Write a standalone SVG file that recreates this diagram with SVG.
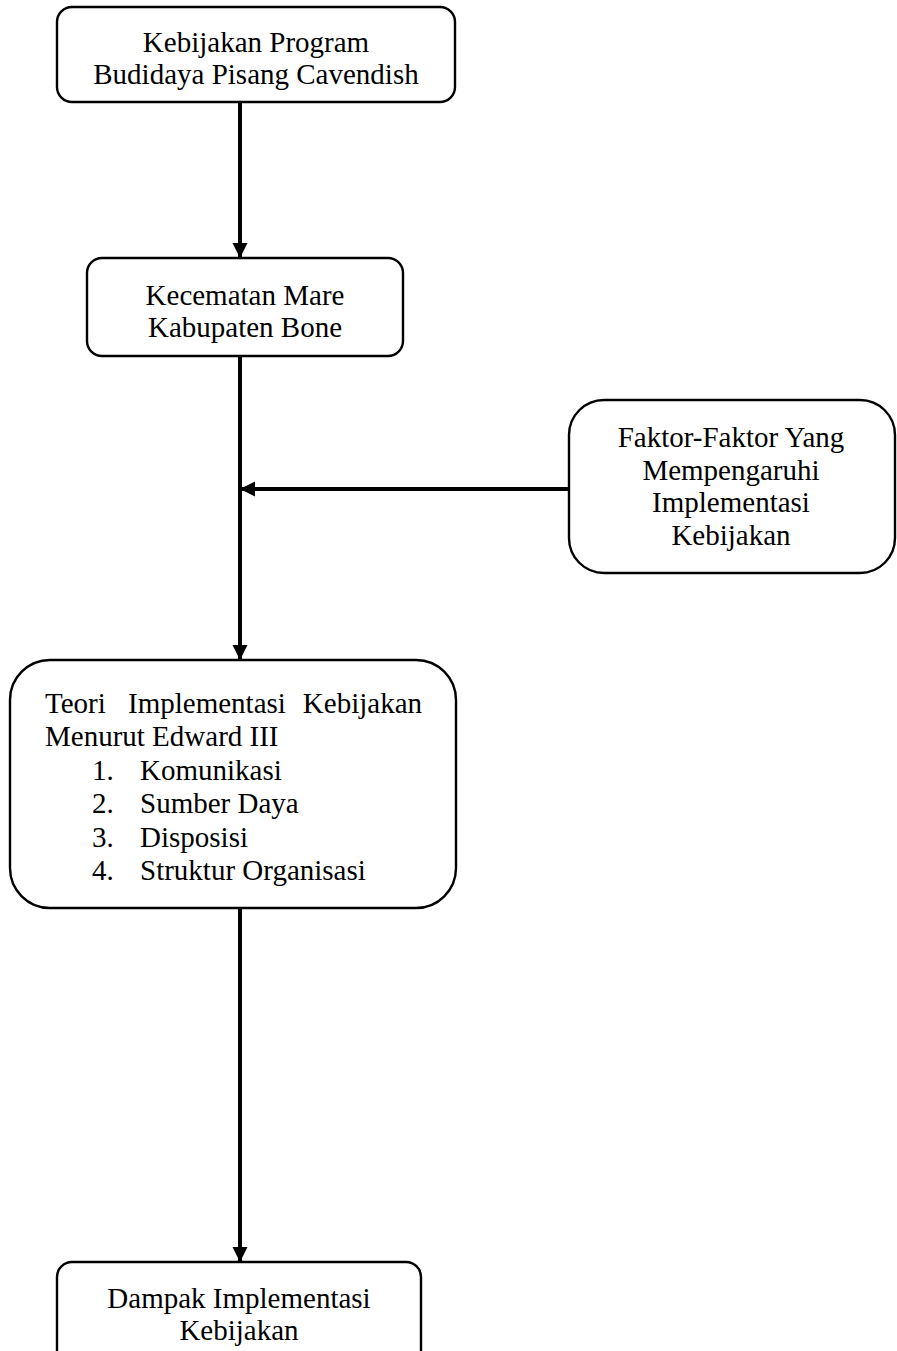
<svg xmlns="http://www.w3.org/2000/svg" width="897" height="1351" viewBox="0 0 897 1351">
<style>
.box{fill:#fff;stroke:#000;stroke-width:2.4}
.t{font-family:"Liberation Serif","Times New Roman",serif;font-size:29px;fill:#000}
.c{text-anchor:middle}
.ln{stroke:#000;stroke-width:4;fill:none}
</style>
<defs>
<marker id="ah" viewBox="0 0 10 10" refX="10" refY="5" markerWidth="3.8" markerHeight="3.8" orient="auto" markerUnits="strokeWidth">
<path d="M0,0 L10,5 L0,10 Z" fill="#000"/>
</marker>
</defs>
<g id="connectors">
<line class="ln" x1="240" y1="102" x2="240" y2="258" marker-end="url(#ah)"/>
<line class="ln" x1="240" y1="356" x2="240" y2="660" marker-end="url(#ah)"/>
<line class="ln" x1="569" y1="489" x2="240" y2="489" marker-end="url(#ah)"/>
<line class="ln" x1="240" y1="908" x2="240" y2="1262" marker-end="url(#ah)"/>
</g>
<g id="n1">
<rect class="box" x="57" y="7" width="398" height="95" rx="15"/>
<text class="t c" x="256" y="52">Kebijakan Program</text>
<text class="t c" x="256" y="84">Budidaya Pisang Cavendish</text>
</g>
<g id="n2">
<rect class="box" x="87" y="258" width="316" height="98" rx="15"/>
<text class="t c" x="245" y="305">Kecematan Mare</text>
<text class="t c" x="245" y="337">Kabupaten Bone</text>
</g>
<g id="n3">
<rect class="box" x="569" y="400" width="326" height="173" rx="35"/>
<text class="t c" x="731" y="447">Faktor-Faktor Yang</text>
<text class="t c" x="731" y="479.5">Mempengaruhi</text>
<text class="t c" x="731" y="512">Implementasi</text>
<text class="t c" x="731" y="544.5">Kebijakan</text>
</g>
<g id="n4">
<rect class="box" x="10" y="660" width="446" height="248" rx="40"/>
<text class="t" x="45" y="713">Teori</text>
<text class="t" x="128" y="713">Implementasi</text>
<text class="t" x="422" y="713" text-anchor="end">Kebijakan</text>
<text class="t" x="45" y="746">Menurut Edward III</text>
<text class="t" x="92" y="779.5">1.</text><text class="t" x="140" y="779.5">Komunikasi</text>
<text class="t" x="92" y="813">2.</text><text class="t" x="140" y="813">Sumber Daya</text>
<text class="t" x="92" y="846.5">3.</text><text class="t" x="140" y="846.5">Disposisi</text>
<text class="t" x="92" y="880">4.</text><text class="t" x="140" y="880">Struktur Organisasi</text>
</g>
<g id="n5">
<rect class="box" x="57" y="1262" width="364" height="110" rx="15"/>
<text class="t c" x="239" y="1308">Dampak Implementasi</text>
<text class="t c" x="239" y="1340">Kebijakan</text>
</g>
</svg>
